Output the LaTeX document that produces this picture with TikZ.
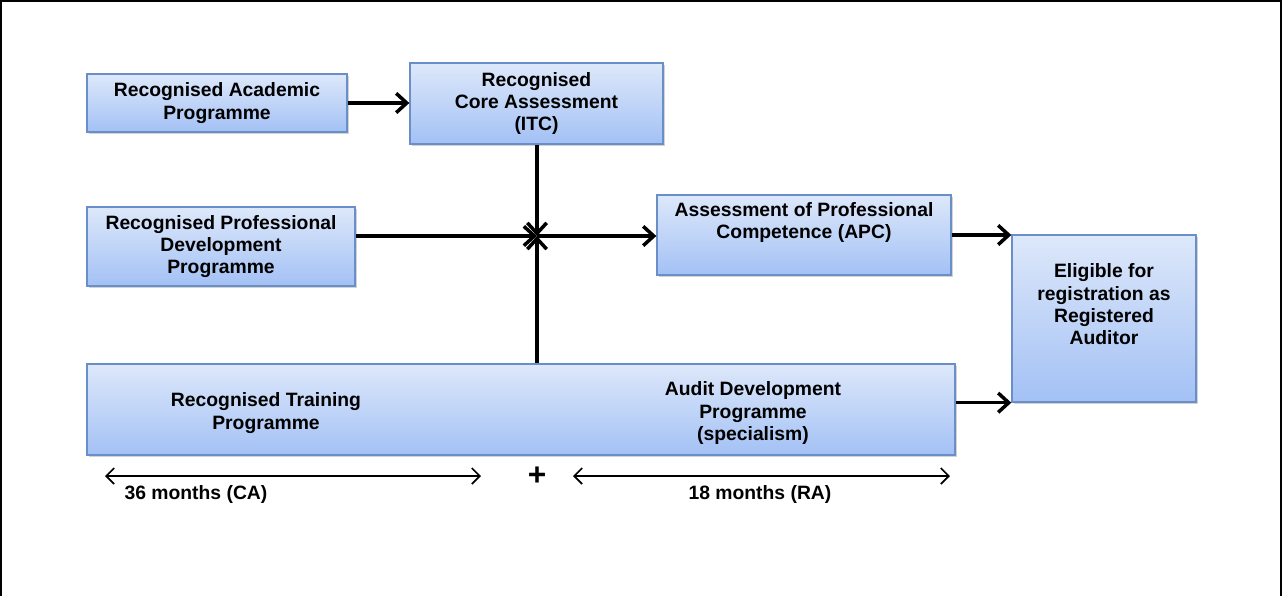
\documentclass[tikz,border=0pt]{standalone}
\usepackage{fontspec}
\setmainfont{Liberation Sans}
\usetikzlibrary{arrows.meta,shadows}
\definecolor{boxtop}{HTML}{DDE8FA}
\definecolor{boxbot}{HTML}{A3C1F5}
\definecolor{boxline}{HTML}{6A8FC8}
\begin{document}
\begin{tikzpicture}[x=0.02cm,y=-0.02cm,
  box/.style={draw=boxline,line width=0.8pt,top color=boxtop,bottom color=boxbot,
    drop shadow={shadow xshift=1.2pt,shadow yshift=-1.2pt,opacity=0.35},
    align=center,inner sep=0pt,font=\bfseries\fontsize{11}{12.6}\selectfont},
  txt/.style={align=center,font=\bfseries\fontsize{11}{12.6}\selectfont},
  flow/.style={line width=2pt,-{Straight Barb[length=6pt,width=11pt]}},
  span/.style={line width=1pt,{Straight Barb[length=4.5pt,width=9pt]}-{Straight Barb[length=4.5pt,width=9pt]}}]
\useasboundingbox (0,0) rectangle (1282,596);
\draw[line width=1.2pt] (1,596) -- (1,1) -- (1281,1) -- (1281,596);

\node [box,minimum width=5.2cm,minimum height=1.16cm] (acad) at (217,103) {Recognised Academic\\Programme};
\node [box,minimum width=5.06cm,minimum height=1.62cm] (core) at (536.5,103.5) {Recognised\\Core Assessment\\(ITC)};
\node [box,minimum width=5.36cm,minimum height=1.58cm] (pd) at (221,246.5) {Recognised Professional\\Development\\Programme};
\node [box,minimum width=5.88cm,minimum height=1.6cm] (apc) at (804,235) {Assessment of Professional\\Competence (APC)\\ \strut};
\node [box,minimum width=3.68cm,minimum height=3.34cm] (elig) at (1104,318.5) {Eligible for\\registration as\\Registered\\Auditor\\ \strut};
\node [box,minimum width=17.36cm,minimum height=1.82cm] (train) at (521,409.5) {};
\node [txt] (rtp) at (266,413) {Recognised Training\\Programme};
\node [txt] (adp) at (753,413) {Audit Development\\Programme\\(specialism)};
\coordinate (jn) at (537,236);

\draw[flow] (acad.east) -- (acad.east -| core.west);
\draw[flow] (jn |- core.south) -- (jn);
\draw[flow] (pd.east |- jn) -- (jn);
\draw[flow] (jn |- train.north) -- (jn);
\draw[flow] (jn) -- (jn -| apc.west);
\draw[flow] (apc.east) -- (apc.east -| elig.west);
\draw[flow] (train.east |- elig.south west) -- (elig.south west);

\coordinate (ca1) at (105,476);
\coordinate (ca2) at (481,476);
\coordinate (ra1) at (573,476);
\coordinate (ra2) at (950,476);
\draw[span] (ca1) -- (ca2);
\draw[span] (ra1) -- (ra2);
\node [font=\bfseries\fontsize{18}{18}\selectfont] (plus) at (537,476) {+};
\node [txt] (ca) at (196,494) {36 months (CA)};
\node [txt] (ra) at (760,494) {18 months (RA)};
\end{tikzpicture}
\end{document}
